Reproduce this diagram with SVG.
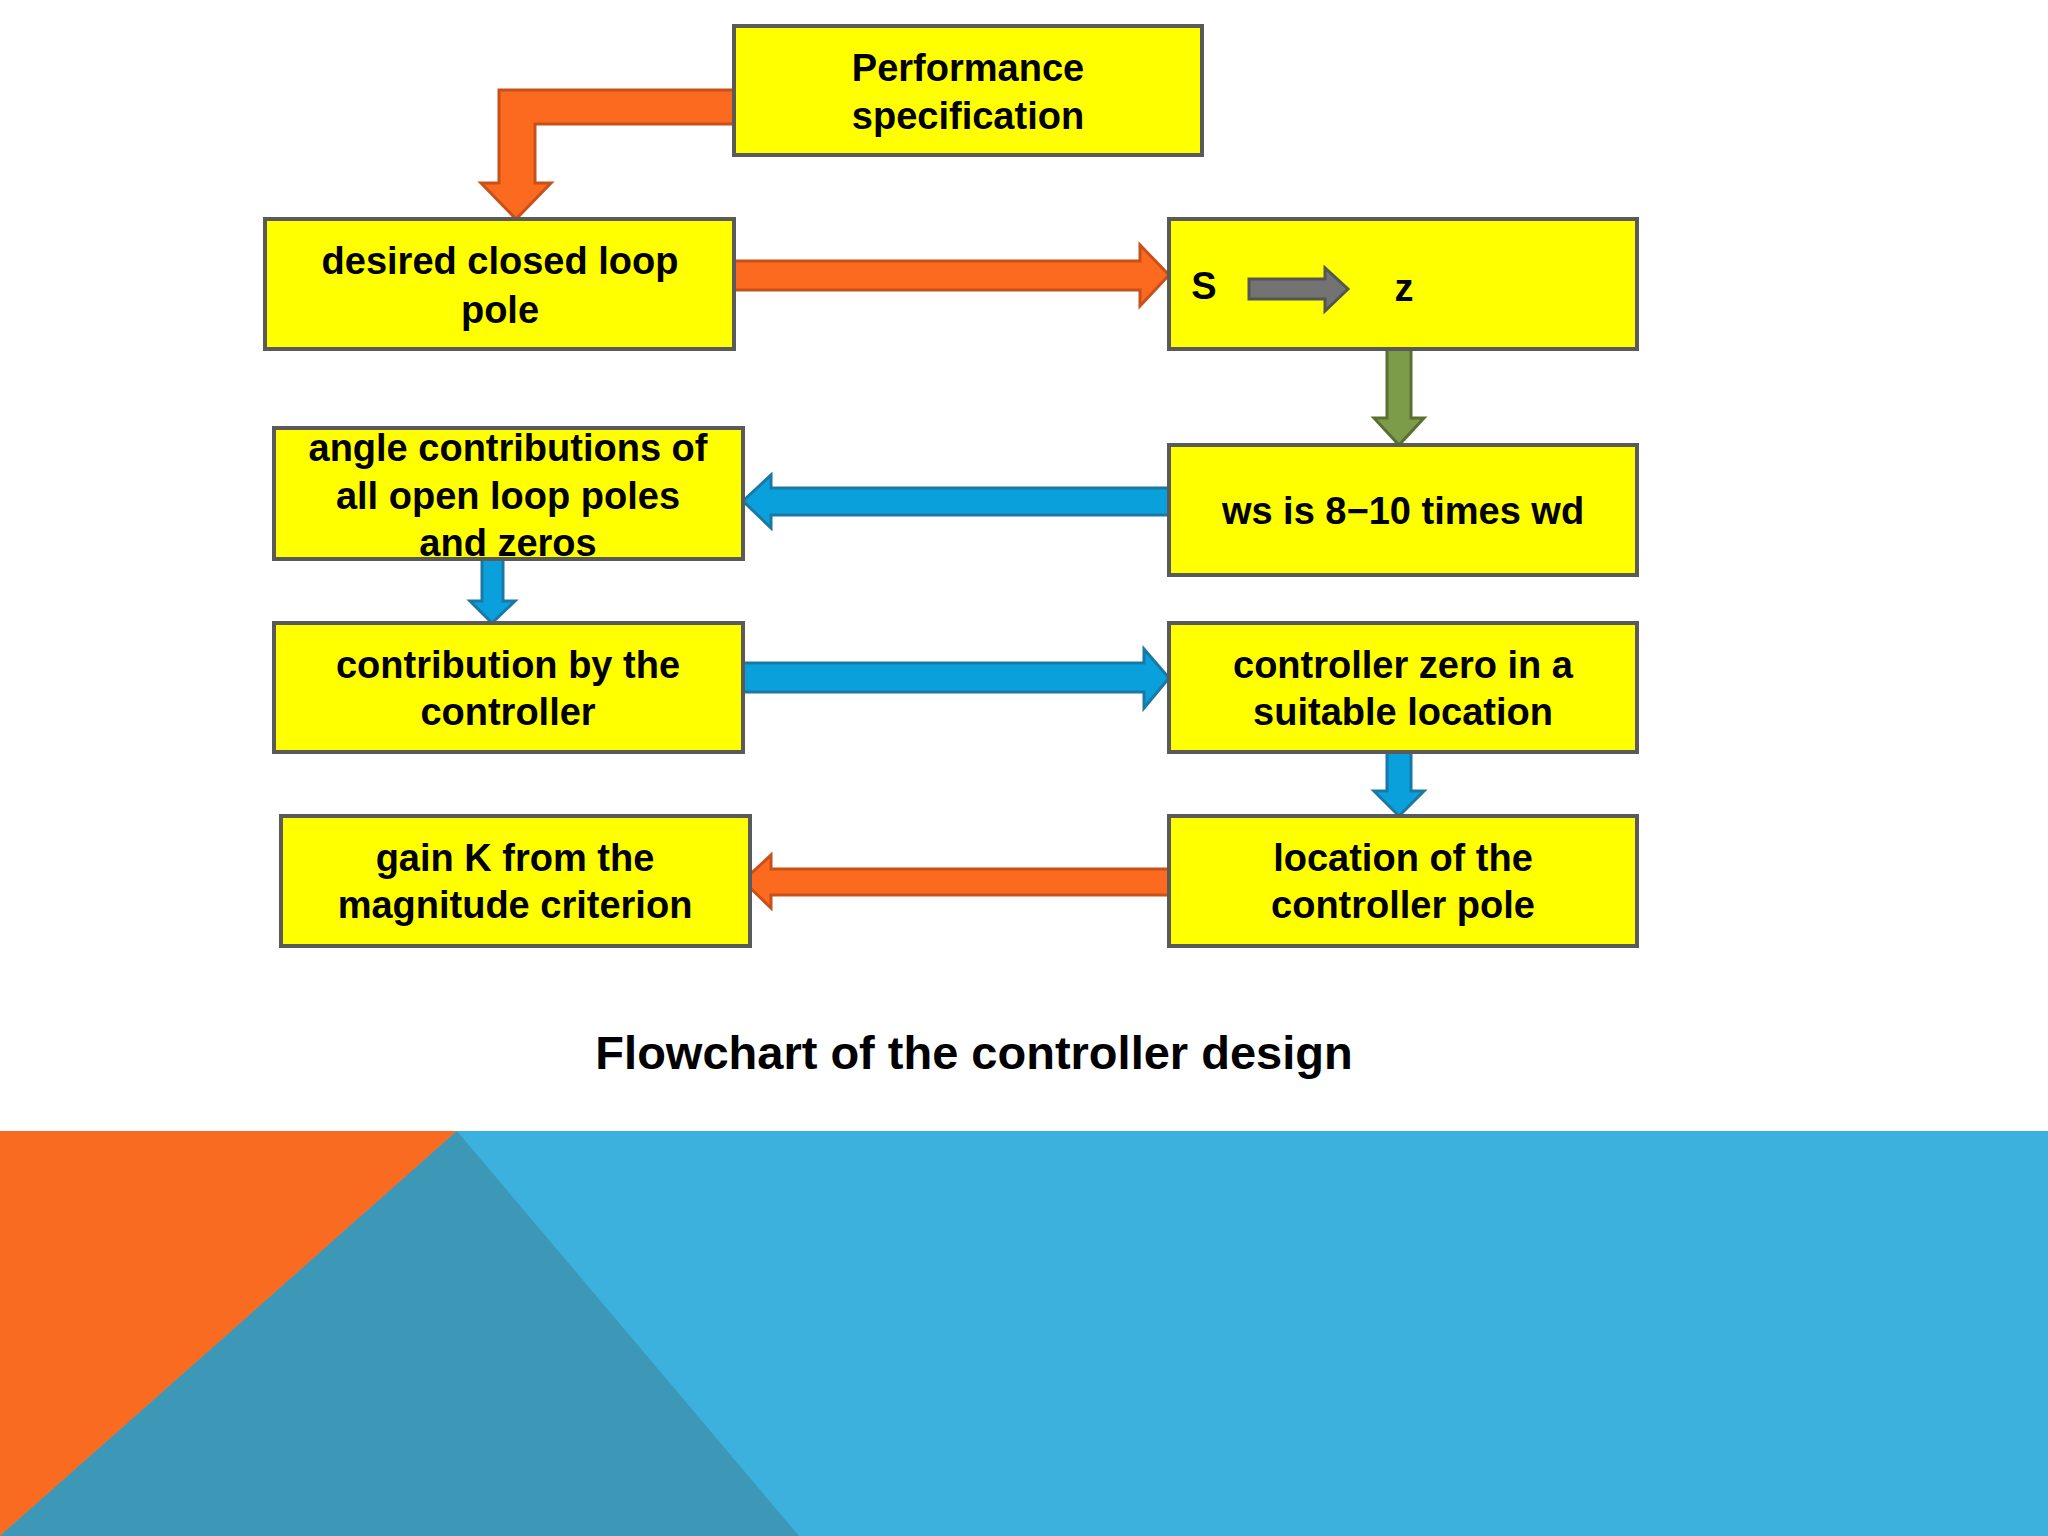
<svg xmlns="http://www.w3.org/2000/svg" width="2048" height="1536" viewBox="0 0 2048 1536">
<style>
.box{fill:#ffff00;stroke:#5a5a5a;stroke-width:4}
.t{font-family:"Liberation Sans",Arial,sans-serif;font-weight:bold;font-size:38px;fill:#000;text-anchor:middle;dominant-baseline:central}
.or{fill:#fb6a1e;stroke:#c8501a;stroke-width:3}
.bl{fill:#0aa0dc;stroke:#1a78a6;stroke-width:3}
.gr{fill:#7d9c4a;stroke:#5a7030;stroke-width:3}
.gy{fill:#737373;stroke:#555;stroke-width:3}
</style>
<rect width="2048" height="1536" fill="#fff"/>
<g id="background">
<rect x="0" y="1131" width="2048" height="405" fill="#3cb1de"/>
<polygon points="0,1131 457,1131 0,1536" fill="#f86b20"/>
<polygon points="457,1131 799,1536 0,1536" fill="#3d98b8"/>
</g>
<g id="connectors">
<polygon class="or" points="734,90 499,90 499,183 481,183 516,219 551,183 535,183 535,124 734,124"/>
<polygon class="or" points="734,261 1140,261 1140,245 1169,275 1140,306 1140,290 734,290"/>
<polygon class="gr" points="1387,349 1411,349 1411,418 1424,418 1399,445 1374,418 1387,418"/>
<polygon class="bl" points="1169,488 771,488 771,475 743,501 771,528 771,515 1169,515"/>
<polygon class="bl" points="482,559 503,559 503,601 515,601 492,623 470,601 482,601"/>
<polygon class="bl" points="743,663 1144,663 1144,649 1169,678 1144,708 1144,692 743,692"/>
<polygon class="bl" points="1387,752 1411,752 1411,791 1424,791 1399,816 1374,791 1387,791"/>
<polygon class="or" points="1169,869 771,869 771,855 743,881 771,908 771,895 1169,895"/>
</g>
<g id="n1"><rect class="box" x="734" y="26" width="468" height="129"/><text class="t" x="968" y="68">Performance</text><text class="t" x="968" y="116">specification</text></g>
<g id="n2"><rect class="box" x="265" y="219" width="469" height="130"/><text class="t" x="500" y="261">desired closed loop</text><text class="t" x="500" y="310">pole</text></g>
<g id="n3"><rect class="box" x="1169" y="219" width="468" height="130"/><text class="t" x="1204" y="286">S</text><polygon class="gy" points="1249,279 1325,279 1325,268 1348,289 1325,311 1325,299 1249,299"/><text class="t" x="1404" y="288">z</text></g>
<g id="n4"><rect class="box" x="274" y="428" width="469" height="131"/><text class="t" x="508" y="448">angle contributions of</text><text class="t" x="508" y="496">all open loop poles</text><text class="t" x="508" y="543">and zeros</text></g>
<g id="n5"><rect class="box" x="1169" y="445" width="468" height="130"/><text class="t" x="1403" y="511">ws  is 8−10 times wd</text></g>
<g id="n6"><rect class="box" x="274" y="623" width="469" height="129"/><text class="t" x="508" y="665">contribution by the</text><text class="t" x="508" y="712">controller</text></g>
<g id="n7"><rect class="box" x="1169" y="623" width="468" height="129"/><text class="t" x="1403" y="665">controller zero in a</text><text class="t" x="1403" y="712">suitable location</text></g>
<g id="n8"><rect class="box" x="281" y="816" width="469" height="130"/><text class="t" x="515" y="858">gain K from the</text><text class="t" x="515" y="905">magnitude criterion</text></g>
<g id="n9"><rect class="box" x="1169" y="816" width="468" height="130"/><text class="t" x="1403" y="858">location of the</text><text class="t" x="1403" y="905">controller pole</text></g>
<text class="t" x="974" y="1052" style="font-size:47px">Flowchart of the controller design</text>
</svg>
